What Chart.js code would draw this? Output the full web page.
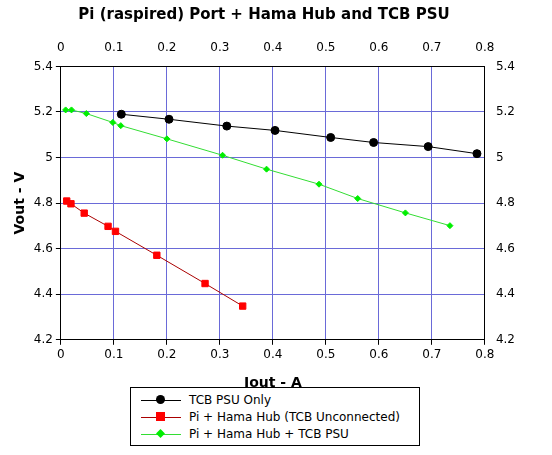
<!DOCTYPE html>
<html>
<head>
<script src="https://cdn.jsdelivr.net/npm/chart.js@4"></script>
<style>
  body { margin: 0; background: #fff; font-family: 'DejaVu Sans'; }
  #wrap { position: relative; width: 552px; height: 455px; }
  #legend { position: absolute; left: 130px; top: 387px; width: 290px; border: 1px solid #000;
            font-size: 12px; padding: 3px 0; box-sizing: border-box; background: #fff; }
  .item { display: flex; align-items: center; height: 17px; }
  .sw { position: relative; width: 40px; height: 10px; margin: 0 8px 0 10px; }
  .sw .ln { position: absolute; left: 0; right: 0; top: 5px; height: 1px; }
  .sw .mk { position: absolute; left: 15px; top: 0; width: 9px; height: 9px; }
</style>
</head>
<body>
<div id="wrap">
  <canvas id="myChart" width="552" height="392"></canvas>
  <div id="legend"></div>
</div>
<script>
Chart.defaults.font.family = 'DejaVu Sans';
Chart.defaults.color = '#000';

// TCB PSU only
const psuI = [0.114, 0.204, 0.313, 0.404, 0.509, 0.590, 0.693, 0.785];
const psuV = [5.190, 5.168, 5.138, 5.119, 5.088, 5.066, 5.048, 5.017];
// Pi + Hama Hub (TCB unconnected)
const hubI = [0.011, 0.019, 0.044, 0.089, 0.103, 0.181, 0.272, 0.343];
const hubV = [4.809, 4.797, 4.756, 4.698, 4.676, 4.571, 4.447, 4.348];
// Pi + Hama Hub + TCB PSU
const bothI = [0.009, 0.020, 0.048, 0.098, 0.113, 0.200, 0.305, 0.388, 0.487, 0.560, 0.650, 0.734];
const bothV = [5.209, 5.209, 5.193, 5.154, 5.140, 5.082, 5.010, 4.949, 4.883, 4.820, 4.757, 4.701];

function pts(xs, ys) { return xs.map((x, i) => ({ x: x, y: ys[i] })); }

const series = [
  { label: 'TCB PSU Only', data: pts(psuI, psuV), color: '#000000', line: '#000000', style: 'circle', r: 4, round: true },
  { label: 'Pi + Hama Hub (TCB Unconnected)', data: pts(hubI, hubV), color: '#ff0000', line: '#aa0000', style: 'rect', r: 4.5, round: false },
  { label: 'Pi + Hama Hub + TCB PSU', data: pts(bothI, bothV), color: '#00ee00', line: '#33dd33', style: 'rectRot', r: 3, round: false }
];

const gridBlue = '#6a6ad8';
const tickFont = { size: 12 };

new Chart(document.getElementById('myChart'), {
  type: 'scatter',
  data: {
    datasets: series.map(s => ({
      label: s.label,
      data: s.data,
      showLine: true,
      borderColor: s.line,
      borderWidth: 1,
      backgroundColor: s.color,
      pointBorderColor: s.color,
      pointStyle: s.style,
      pointRadius: s.r,
      pointHoverRadius: s.r
    }))
  },
  options: {
    responsive: false,
    animation: false,
    layout: { padding: { left: 10, right: 34 } },
    scales: {
      x: {
        min: 0, max: 0.8,
        ticks: { stepSize: 0.1, font: tickFont, callback: v => +v.toFixed(1) },
        grid: { color: gridBlue, drawTicks: true, tickColor: '#000', tickLength: 5 },
        border: { color: '#000' },
        title: { display: true, text: 'Iout - A', font: { size: 14, weight: 'bold' }, padding: { top: 10, bottom: 0 } }
      },
      x2: {
        position: 'top', min: 0, max: 0.8,
        ticks: { stepSize: 0.1, font: tickFont, callback: v => +v.toFixed(1) },
        grid: { display: false, drawTicks: true },
        border: { color: '#000' }
      },
      y: {
        min: 4.2, max: 5.4,
        ticks: { stepSize: 0.2, font: tickFont, callback: v => +v.toFixed(1) },
        grid: { color: gridBlue, tickColor: '#000', tickLength: 5 },
        border: { color: '#000' },
        title: { display: true, text: 'Vout - V', font: { size: 14, weight: 'bold' }, padding: 2 }
      },
      y2: {
        position: 'right', min: 4.2, max: 5.4,
        ticks: { stepSize: 0.2, font: tickFont, callback: v => +v.toFixed(1) },
        grid: { display: false },
        border: { color: '#000' }
      }
    },
    plugins: {
      legend: { display: false },
      tooltip: { enabled: false },
      title: {
        display: true,
        text: 'Pi (raspired) Port + Hama Hub and TCB PSU',
        font: { size: 15, weight: 'bold' },
        padding: { top: 6, bottom: 14 }
      }
    }
  }
});

// legend below the chart, built from the series list
const leg = document.getElementById('legend');
series.forEach(s => {
  const it = document.createElement('div');
  it.className = 'item';
  const sw = document.createElement('span');
  sw.className = 'sw';
  const ln = document.createElement('span');
  ln.className = 'ln';
  ln.style.background = s.line;
  const mk = document.createElement('span');
  mk.className = 'mk';
  mk.style.background = s.color;
  if (s.round) mk.style.borderRadius = '50%';
  if (s.style === 'rectRot') { mk.style.transform = 'rotate(45deg) scale(0.7)'; }
  sw.appendChild(ln);
  sw.appendChild(mk);
  const tx = document.createElement('span');
  tx.textContent = s.label;
  it.appendChild(sw);
  it.appendChild(tx);
  leg.appendChild(it);
});
</script>
</body>
</html>
